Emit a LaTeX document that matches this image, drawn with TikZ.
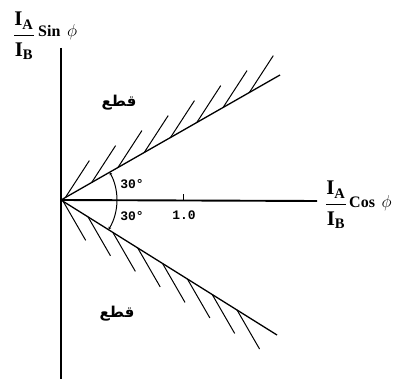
\documentclass[tikz,border=0pt]{standalone}
\usepackage{fontspec}
\usepackage{graphicx}
\setmainfont{Liberation Serif}
\setmonofont{Liberation Mono}
\newfontfamily\arabicfont[Script=Arabic]{DejaVu Sans}
\TeXXeTstate=1
\usetikzlibrary{arrows.meta,calc}
\newcommand{\ratioIA}{\scalebox{1.3}{$\displaystyle\frac{\mathbf{I}_{\mathbf{A}}}{\mathbf{I}_{\mathbf{B}}}$}}
\begin{document}
\begin{tikzpicture}[x=1pt,y=-1pt,
  axis/.style={line width=1.9pt},
  limit/.style={line width=1.3pt},
  hatch/.style={line width=1pt},
  anglemark/.style={line width=1pt,-{Stealth[length=3pt,width=3pt]}},
  lbl/.style={font=\ttfamily\bfseries\fontsize{13}{14}\selectfont,inner sep=0pt},
  fraclbl/.style={font=\bfseries\fontsize{16}{18}\selectfont,inner sep=0pt},
  axlbl/.style={font=\bfseries\fontsize{16}{18}\selectfont,inner sep=0pt,anchor=base west},
  arlbl/.style={font=\arabicfont\bfseries\fontsize{15}{16}\selectfont,inner sep=0pt}]
\useasboundingbox (0,0) rectangle (395,379);
\coordinate (O) at (61,200);
\coordinate (ytop) at (61,48);
\coordinate (ybot) at (61,379);
\coordinate (xend) at (317,201);
\coordinate (U) at (280,75);
\coordinate (L) at (277,335);
\draw[axis] (ytop) -- (ybot);
\draw[axis] (O) -- (xend);
\draw[limit] (O) -- (U);
\draw[limit] (O) -- (L);
\foreach \t in {0.02,0.14,...,0.87} {
  \draw[hatch] ($(O)!\t!(U)$) -- ++(-57:44);
}
\foreach \t in {0.01,0.125,...,0.84} {
  \draw[hatch] ($(O)!\t!(L)$) -- ++(60:45);
}
\draw[anglemark] (O) ++(0:56) arc (0:-29.7:56);
\draw[anglemark] (O) ++(0:56) arc (0:32:56);
\coordinate (tick) at (183,200);
\draw[line width=0.9pt] (tick) -- ++(0,-6);
\node[lbl] (a1) at (132,184) {30°};
\node[lbl] (a2) at (132,216) {30°};
\node[lbl] (one) at (184,215) {1.0};
\node[fraclbl] (yfrac) at (24,36) {\ratioIA};
\node[axlbl] (ylab) at (38,37) {Sin\, $\phi$};
\node[fraclbl] (xfrac) at (336,205) {\ratioIA};
\node[axlbl] (xlab) at (349,207) {Cos\, $\phi$};
\node[arlbl] (t1) at (119,103) {\beginR قطع\endR};
\node[arlbl] (t2) at (117,314) {\beginR قطع\endR};
\end{tikzpicture}
\end{document}
